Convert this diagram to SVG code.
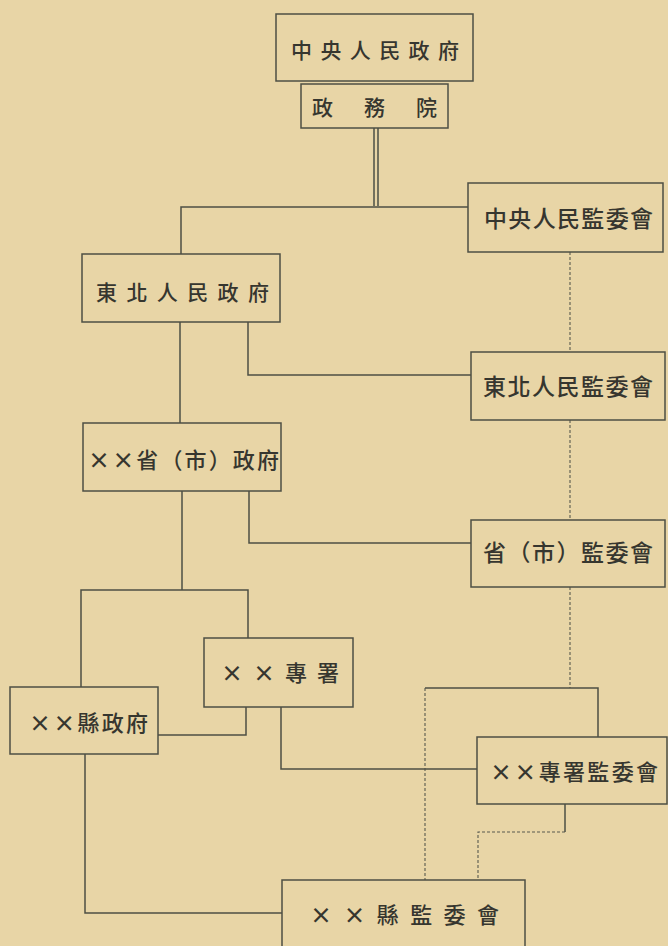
<svg xmlns="http://www.w3.org/2000/svg" width="668" height="946" viewBox="0 0 668 946">
<style>
.bg{fill:#e8d5a6}
.box{fill:none;stroke:#4d4f44;stroke-width:1.5}
.ln{fill:none;stroke:#4d4f44;stroke-width:1.5}
.dl{fill:none;stroke:#585a4e;stroke-width:1.1;stroke-dasharray:3 2}
.t{font-family:"Noto Sans CJK TC","Noto Sans CJK SC",sans-serif;fill:#36362f;font-weight:500}
.x{font-weight:700}
</style>
<rect class="bg" x="0" y="0" width="668" height="946"/>
<g id="connectors">
<line class="ln" x1="374" y1="128" x2="374" y2="206"/>
<line class="ln" x1="378" y1="128" x2="378" y2="206"/>
<polyline class="ln" points="181,254 181,207 468,207"/>
<line class="dl" x1="570" y1="252" x2="570" y2="352"/>
<line class="ln" x1="180" y1="322" x2="180" y2="423"/>
<polyline class="ln" points="248,322 248,375 471,375"/>
<line class="dl" x1="570" y1="420" x2="570" y2="520"/>
<line class="ln" x1="182" y1="491" x2="182" y2="590"/>
<polyline class="ln" points="249,491 249,543 471,543"/>
<polyline class="ln" points="81,687 81,590 248,590 248,638"/>
<line class="dl" x1="570" y1="587" x2="570" y2="688"/>
<polyline class="ln" points="425,688 598,688 598,737"/>
<line class="dl" x1="425" y1="688" x2="425" y2="880"/>
<polyline class="ln" points="246,707 246,735 158,735"/>
<polyline class="ln" points="281,707 281,769 477,769"/>
<line class="ln" x1="565" y1="804" x2="565" y2="832"/>
<polyline class="dl" points="565,832 478,832 478,880"/>
<polyline class="ln" points="85,754 85,913 282,913"/>
</g>
<g id="n-central-gov">
<rect class="box" x="276" y="14" width="197" height="67"/>
<text class="t" x="291" y="58" font-size="21" textLength="168" lengthAdjust="spacing">中央人民政府</text>
</g>
<g id="n-state-council">
<rect class="box" x="301" y="84" width="147" height="44"/>
<text class="t" x="312" y="115" font-size="21" textLength="125" lengthAdjust="spacing">政務院</text>
</g>
<g id="n-central-supervision">
<rect class="box" x="468" y="183" width="195" height="69"/>
<text class="t" x="484" y="227" font-size="23" textLength="169" lengthAdjust="spacing">中央人民監委會</text>
</g>
<g id="n-northeast-gov">
<rect class="box" x="82" y="254" width="198" height="68"/>
<text class="t" x="96" y="300" font-size="21" textLength="173" lengthAdjust="spacing">東北人民政府</text>
</g>
<g id="n-northeast-supervision">
<rect class="box" x="471" y="352" width="194" height="68"/>
<text class="t" x="483" y="395" font-size="23" textLength="170" lengthAdjust="spacing">東北人民監委會</text>
</g>
<g id="n-province-gov">
<rect class="box" x="83" y="423" width="198" height="68"/>
<text class="t" x="88" y="468" font-size="22" textLength="191" lengthAdjust="spacing"><tspan class="x">××</tspan>省（市）政府</text>
</g>
<g id="n-province-supervision">
<rect class="box" x="471" y="520" width="194" height="67"/>
<text class="t" x="483" y="561" font-size="23" textLength="170" lengthAdjust="spacing">省（市）監委會</text>
</g>
<g id="n-prefecture">
<rect class="box" x="204" y="638" width="149" height="69"/>
<text class="t" x="221" y="681" font-size="22" textLength="118" lengthAdjust="spacing"><tspan class="x">××</tspan>專署</text>
</g>
<g id="n-county-gov">
<rect class="box" x="10" y="687" width="148" height="67"/>
<text class="t" x="29" y="731" font-size="22" textLength="119" lengthAdjust="spacing"><tspan class="x">××</tspan>縣政府</text>
</g>
<g id="n-prefecture-supervision">
<rect class="box" x="477" y="737" width="190" height="67"/>
<text class="t" x="490" y="780" font-size="22" textLength="168" lengthAdjust="spacing"><tspan class="x">××</tspan>專署監委會</text>
</g>
<g id="n-county-supervision">
<rect class="box" x="282" y="880" width="243" height="75"/>
<text class="t" x="310" y="923" font-size="22" textLength="189" lengthAdjust="spacing"><tspan class="x">××</tspan>縣監委會</text>
</g>
</svg>
